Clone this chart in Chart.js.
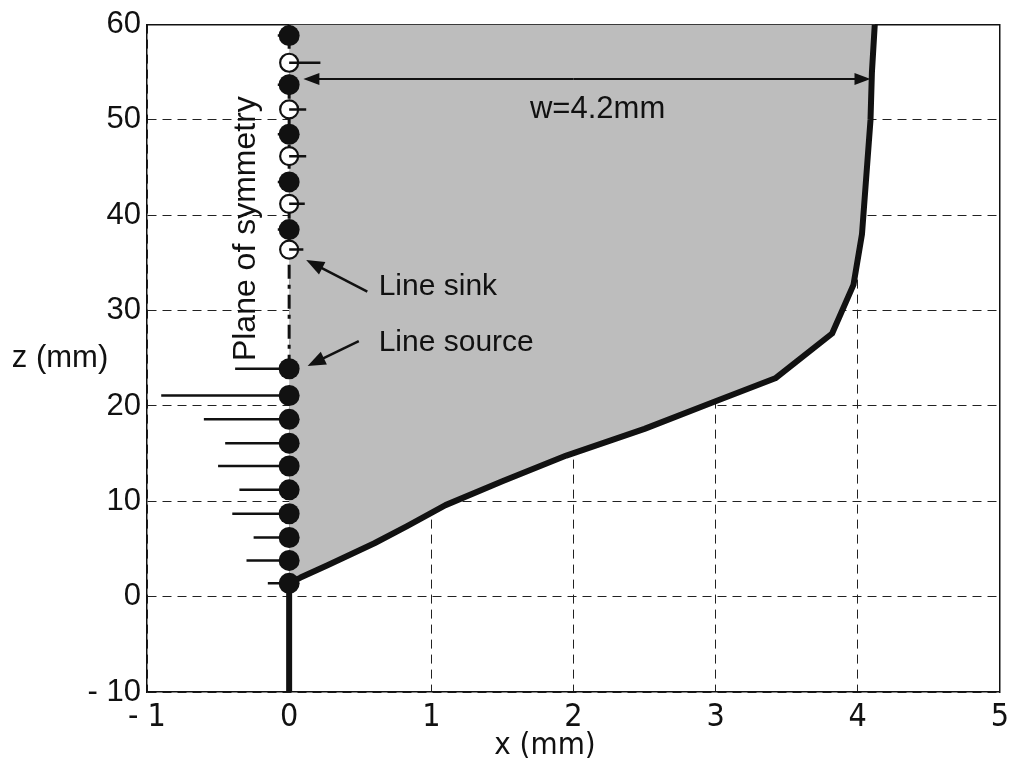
<!DOCTYPE html>
<html>
<head>
<meta charset="utf-8">
<script src="https://cdn.jsdelivr.net/npm/chart.js@4.4.0/dist/chart.umd.min.js"></script>
<style>
  html, body { margin: 0; padding: 0; background: #fff; }
  #wrap { width: 1015px; height: 768px; }
</style>
</head>
<body>
<div id="wrap"><canvas id="chart" width="1015" height="768"></canvas></div>
<script>
// melt pool boundary, x and z in mm
const boundaryX = [0, 0, 0.08, 0.27, 0.60, 0.83, 1.10, 1.50, 1.95, 2.50, 3.00, 3.42, 3.82, 3.97, 4.03, 4.06, 4.09, 4.10, 4.12];
const boundaryZ = [-10, 1.4, 2.0, 3.3, 5.6, 7.4, 9.6, 12.1, 14.8, 17.6, 20.5, 22.9, 27.6, 32.7, 38.0, 44.0, 50.0, 55.0, 60.0];

// line sources on the plane of symmetry and where their stems end
const sourceZ = [1.4, 3.8, 6.2, 8.7, 11.2, 13.7, 16.1, 18.6, 21.1, 23.9];
const sourceStem = [-0.15, -0.30, -0.25, -0.40, -0.35, -0.50, -0.45, -0.60, -0.90, -0.38];

// line sinks (open circles)
const sinkZ = [36.4, 41.2, 46.2, 51.1, 56.0];
const sinkStem = [0.10, 0.11, 0.12, 0.12, 0.22];

// filled markers between the sinks
const imageZ = [38.5, 43.5, 48.5, 53.7, 58.85];
const imageStem = [-0.08, -0.08, -0.08, -0.08, -0.08];

// plane of symmetry line
const planeZ = [23.9, 60];

const xTicks = [-1, 0, 1, 2, 3, 4, 5];
const zTicks = [-10, 0, 10, 20, 30, 40, 50, 60];

const pts = (xs, zs) => xs.map((v, i) => ({ x: v, y: zs[i] }));
const stems = (zs, ends) => zs.flatMap((z, i) => [{ x: ends[i], y: z }, { x: 0, y: z }, { x: NaN, y: NaN }]);
const onPlane = zs => zs.map(z => ({ x: 0, y: z }));

const fillShape = pts(boundaryX.slice(1), boundaryZ.slice(1)).concat([{ x: 0, y: zTicks[zTicks.length - 1] }]);

const tickFmt = v => (v < 0 ? '- ' + Math.abs(v) : String(v));
const narrow = '"Liberation Sans Narrow", "DejaVu Sans Condensed", "Liberation Sans", Arial, sans-serif';
const sans = '"Liberation Sans", Arial, sans-serif';

const arrow = (ctx, x1, y1, x2, y2, len, half) => {
    const a = Math.atan2(y2 - y1, x2 - x1);
    ctx.beginPath();
    ctx.moveTo(x1, y1);
    ctx.lineTo(x2 - Math.cos(a) * len * 0.8, y2 - Math.sin(a) * len * 0.8);
    ctx.stroke();
    ctx.beginPath();
    ctx.moveTo(x2, y2);
    ctx.lineTo(x2 - Math.cos(a) * len - Math.sin(a) * half, y2 - Math.sin(a) * len + Math.cos(a) * half);
    ctx.lineTo(x2 - Math.cos(a) * len + Math.sin(a) * half, y2 - Math.sin(a) * len - Math.cos(a) * half);
    ctx.closePath();
    ctx.fill();
};

const notes = {
    id: 'notes',
    afterDraw(chart) {
        const { ctx } = chart;
        const px = v => chart.scales.x.getPixelForValue(v);
        const py = v => chart.scales.y.getPixelForValue(v);
        ctx.save();
        ctx.fillStyle = '#111';
        ctx.strokeStyle = '#111';

        // arrows
        ctx.lineWidth = 2.5;
        arrow(ctx, px(0.55), py(32.0), px(0.12), py(35.3), 18, 7);
        arrow(ctx, px(0.49), py(26.8), px(0.13), py(24.2), 18, 7);
        ctx.lineWidth = 2;
        arrow(ctx, px(2.0), py(54.3), px(0.1), py(54.3), 16, 6);
        arrow(ctx, px(2.0), py(54.3), px(4.09), py(54.3), 16, 6);

        ctx.font = '30px ' + sans;
        ctx.textBaseline = 'middle';
        ctx.textAlign = 'left';
        ctx.fillText('Line sink', px(0.63), py(32.5));
        ctx.fillText('Line source', px(0.63), py(26.6));
        ctx.textAlign = 'center';
        ctx.font = '31px ' + sans;
        ctx.fillText('w=4.2mm', px(2.17), py(51.1));
        ctx.fillText('z (mm)', 60, py(25));

        ctx.save();
        ctx.translate(px(-0.30), py(38.6));
        ctx.rotate(-Math.PI / 2);
        ctx.font = '32px ' + sans;
        ctx.fillText('Plane of symmetry', 0, 0);
        ctx.restore();

        ctx.font = '31px ' + narrow;
        ctx.fillText('x (mm)', 545, 746);
        ctx.restore();
    }
};

const gridOpts = { color: '#222', lineWidth: 1, drawTicks: false };
const borderOpts = { display: true, color: '#111', width: 1.5, dash: [9, 6] };

new Chart(document.getElementById('chart'), {
    type: 'scatter',
    data: {
        datasets: [
            { data: stems(sinkZ, sinkStem), showLine: true, borderColor: '#111', borderWidth: 2.5, pointRadius: 0, order: 0 },
            { data: onPlane(sinkZ), pointRadius: 9, pointBackgroundColor: '#fff', pointBorderColor: '#111', pointBorderWidth: 2.2, order: 1 },
            { data: onPlane(sourceZ.concat(imageZ)), pointRadius: 10.5, pointBackgroundColor: '#111', pointBorderColor: '#111', pointBorderWidth: 0, order: 2 },
            { data: stems(sourceZ.concat(imageZ), sourceStem.concat(imageStem)), showLine: true, borderColor: '#111', borderWidth: 2.5, pointRadius: 0, order: 3 },
            { data: onPlane(planeZ), showLine: true, borderColor: '#111', borderWidth: 3, borderDash: [14, 6, 4, 6], pointRadius: 0, order: 4 },
            { data: pts(boundaryX, boundaryZ), showLine: true, borderColor: '#111', borderWidth: 6, borderJoinStyle: 'round', pointRadius: 0, order: 5 },
            { data: fillShape, showLine: true, fill: 'shape', backgroundColor: '#bdbdbd', borderWidth: 0, pointRadius: 0, order: 6 }
        ]
    },
    options: {
        responsive: false,
        animation: false,
        layout: { padding: 0 },
        plugins: { legend: { display: false }, tooltip: { enabled: false } },
        scales: {
            x: {
                type: 'linear', position: 'bottom', min: -1, max: 5, z: 1,
                afterBuildTicks: s => { s.ticks = xTicks.map(v => ({ value: v })); },
                afterFit: s => { s.height = 76; },
                grid: gridOpts, border: borderOpts,
                ticks: { padding: 6, color: '#111', font: { family: narrow, size: 32 }, callback: tickFmt }
            },
            y: {
                type: 'linear', position: 'left', min: -10, max: 60, z: 1,
                afterBuildTicks: s => { s.ticks = zTicks.map(v => ({ value: v })); },
                afterFit: s => { s.width = 147; },
                grid: gridOpts, border: borderOpts,
                ticks: { padding: 6, color: '#111', font: { family: sans, size: 31 }, callback: tickFmt }
            },
            xTop: {
                type: 'linear', position: 'top', min: -1, max: 5,
                afterFit: s => { s.height = 22; },
                grid: { display: false }, ticks: { display: false },
                border: { display: true, color: '#111', width: 1.5 }
            },
            yRight: {
                type: 'linear', position: 'right', min: -10, max: 60,
                afterFit: s => { s.width = 12; },
                grid: { display: false }, ticks: { display: false },
                border: { display: true, color: '#111', width: 1.5 }
            }
        }
    },
    plugins: [notes]
});
</script>
</body>
</html>
